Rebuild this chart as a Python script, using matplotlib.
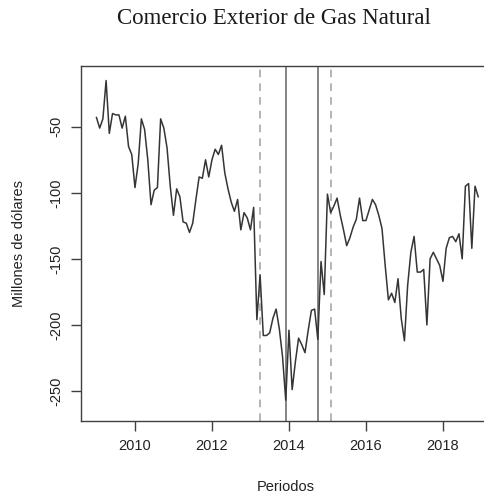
import matplotlib
matplotlib.use('Agg')
import matplotlib.pyplot as plt
import numpy as np

# monthly series, Jan 2009 - Dec 2018 (millones de dolares)
start_year = 2009
values = [
    -43, -51, -44, -15, -55, -40, -41, -41, -51, -42, -65, -71,
    -96, -78, -44, -52, -75, -109, -98, -96, -44, -51, -66, -95,
    -117, -97, -103, -122, -123, -130, -123, -105, -88, -89, -75, -88,
    -75, -67, -71, -64, -85, -97, -107, -114, -105, -128, -115, -119,
    -128, -111, -196, -162, -208, -208, -206, -195, -188, -203, -224, -257,
    -204, -249, -228, -210, -215, -221, -204, -189, -188, -211, -152, -177,
    -101, -115, -110, -104, -117, -128, -140, -134, -126, -120, -104, -121,
    -121, -113, -105, -109, -117, -127, -155, -181, -176, -183, -165, -195,
    -212, -170, -145, -133, -160, -160, -158, -200, -150, -145, -150, -155,
    -167, -142, -134, -133, -137, -131, -150, -95, -93, -142, -95, -103,
]
# vertical reference lines (dashed / solid)
dashed_dates = [2013.25, 2015.083]
solid_dates = [2013.917, 2014.75]

t = start_year + np.arange(len(values)) / 12.0

fig = plt.figure(figsize=(4.84, 4.96), dpi=100)
ax = fig.add_axes([81.2 / 484, 1 - 420.7 / 496, (493.5 - 81.2) / 484, (420.7 - 66) / 496])

for d in dashed_dates:
    ax.axvline(d, color='#a0a0a0', lw=1.1, ls=(0, (5, 4)))
for d in solid_dates:
    ax.axvline(d, color='#707070', lw=1.2)

ax.plot(t, values, color='#353535', lw=1.1)

# R-style x padding (4%)
span = t[-1] - t[0]
ax.set_xlim(t[0] - 0.04 * span, t[-1] + 0.04 * span)
ax.set_ylim(-272.5, -4)

ax.set_xticks([2010, 2012, 2014, 2016, 2018])
ax.set_yticks([-50, -100, -150, -200, -250])
ax.set_yticklabels(['-50', '-100', '-150', '-200', '-250'], rotation=90, va='center')

for s in ax.spines.values():
    s.set_color('#404040')
    s.set_linewidth(1.0)
ax.tick_params(direction='out', length=7, width=1.0, color='#404040',
               labelsize=10.5, labelcolor='#222222', pad=6)

fam = ['Liberation Sans', 'DejaVu Sans']
for lab in ax.get_xticklabels() + ax.get_yticklabels():
    lab.set_family(fam)

ax.set_ylabel('Millones de dólares', family=fam, fontsize=10.5, color='#222222', labelpad=17)
fig.text(286 / 484, 1 - 487 / 496, 'Periodos', family=fam, fontsize=10.5,
         color='#222222', ha='center', va='center')
fig.text(274 / 484, 1 - 19 / 496, 'Comercio Exterior de Gas Natural',
         family=['Liberation Serif', 'DejaVu Serif'], fontsize=16.5,
         color='#1a1a1a', ha='center', va='center')

fig.savefig('out.png', dpi=100)
